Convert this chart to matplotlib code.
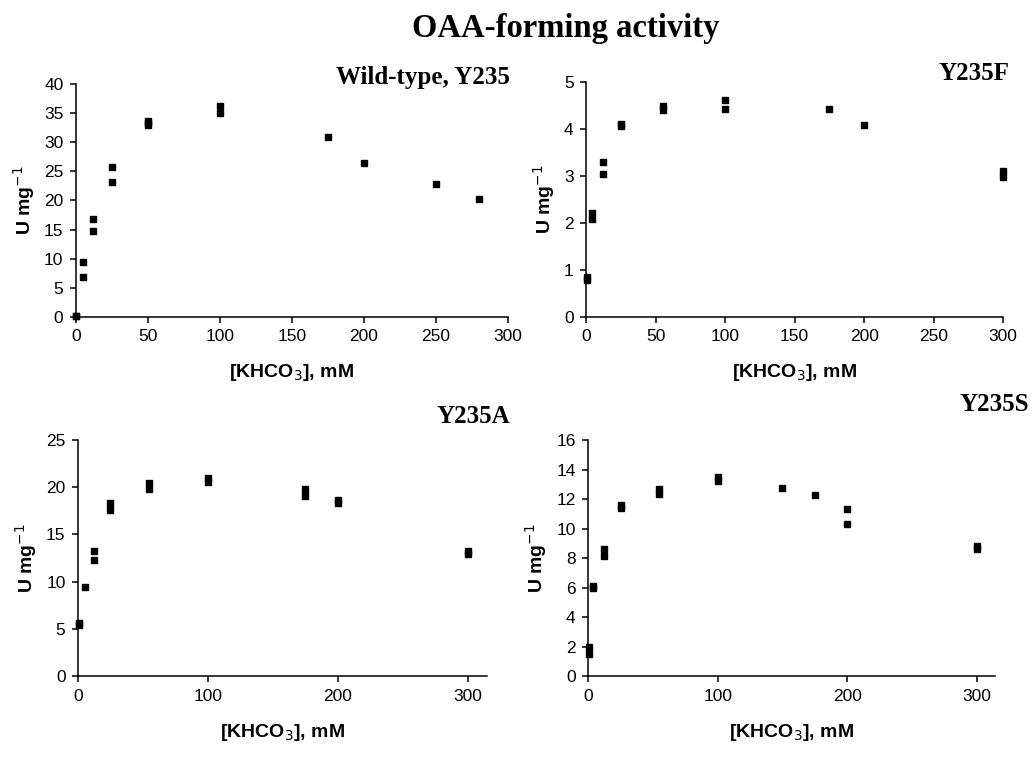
import matplotlib
matplotlib.use('Agg')
import matplotlib.pyplot as plt

plt.rcParams['font.family'] = 'Liberation Sans'

# OAA-forming activity vs bicarbonate, four enzyme variants
wt_x = [0, 0, 5, 5, 12, 12, 25, 25, 50, 50, 50, 100, 100, 175, 200, 250, 280]
wt_y = [0.1, 0.2, 9.5, 6.8, 16.9, 14.8, 25.8, 23.1, 33.7, 33.3, 32.9, 36.3, 35.1, 30.9, 26.5, 22.9, 20.2]

f_x = [0.5, 0.5, 4, 4, 12, 12, 25, 25, 55, 55, 100, 100, 175, 200, 300, 300]
f_y = [0.84, 0.79, 2.22, 2.08, 3.29, 3.03, 4.10, 4.06, 4.48, 4.40, 4.61, 4.43, 4.43, 4.09, 3.11, 2.97]

a_x = [1, 1, 5, 12, 12, 25, 25, 55, 55, 100, 100, 175, 175, 200, 200, 300, 300]
a_y = [5.6, 5.4, 9.45, 13.3, 12.25, 18.3, 17.6, 20.5, 19.8, 21.0, 20.6, 19.8, 19.1, 18.6, 18.3, 13.2, 12.95]

s_x = [0.5, 0.5, 4, 4, 12, 12, 25, 25, 55, 55, 100, 100, 150, 175, 200, 200, 300, 300]
s_y = [1.97, 1.48, 6.13, 5.97, 8.62, 8.17, 11.57, 11.39, 12.69, 12.35, 13.48, 13.25, 12.75, 12.28, 11.35, 10.28, 8.85, 8.62]

fig = plt.figure(figsize=(10.32, 7.58), dpi=100)

panels = [
    # data, axes rect, xlim, xticks, ylim, yticks, name, name position
    (wt_x, wt_y, [0.0736, 0.582, 0.4184, 0.307], (0, 300), range(0, 301, 50),
     (0, 40), range(0, 41, 5), 'Wild-type, Y235', (0.494, 0.898)),
    (f_x, f_y, [0.568, 0.582, 0.404, 0.310], (0, 300), range(0, 301, 50),
     (0, 5), range(0, 6), 'Y235F', (0.978, 0.903)),
    (a_x, a_y, [0.0756, 0.108, 0.3964, 0.3115], (0, 315), range(0, 301, 100),
     (0, 25), range(0, 26, 5), 'Y235A', (0.494, 0.451)),
    (s_x, s_y, [0.570, 0.108, 0.394, 0.3115], (0, 314), range(0, 301, 100),
     (0, 16), range(0, 17, 2), 'Y235S', (0.997, 0.466)),
]

for x, y, rect, xlim, xt, ylim, yt, name, pos in panels:
    ax = fig.add_axes(rect)
    ax.plot(x, y, 's', color='black', markersize=5, clip_on=False)
    ax.set_xlim(*xlim)
    ax.set_ylim(*ylim)
    ax.set_xticks(list(xt))
    ax.set_yticks(list(yt))
    ax.spines['top'].set_visible(False)
    ax.spines['right'].set_visible(False)
    ax.spines['left'].set_linewidth(1.1)
    ax.spines['bottom'].set_linewidth(1.1)
    ax.tick_params(direction='out', length=4, width=1.1, labelsize=12.5, pad=5)
    ax.set_xlabel('[KHCO$_3$], mM', fontsize=14, fontweight='bold', labelpad=13)
    ax.set_ylabel('U mg$^{-1}$', fontsize=14, fontweight='bold', labelpad=5)
    fig.text(pos[0], pos[1], name, ha='right', va='center',
             family='Liberation Serif', fontweight='bold', fontsize=18)

fig.text(0.548, 0.962, 'OAA-forming activity', ha='center', va='center',
         family='Liberation Serif', fontweight='bold', fontsize=23.5)

fig.savefig('out.png', dpi=100)
